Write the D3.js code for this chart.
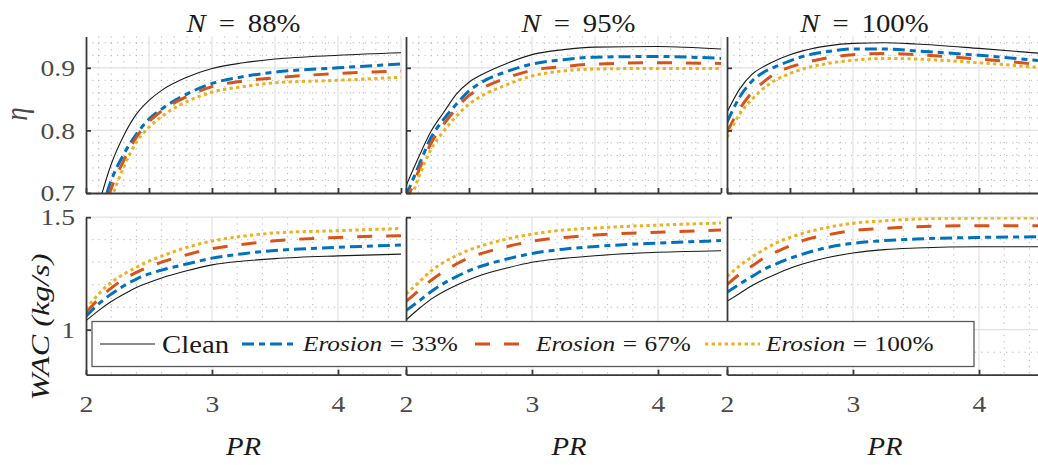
<!DOCTYPE html>
<html><head><meta charset="utf-8">
<script src="https://cdn.jsdelivr.net/npm/d3@7/dist/d3.min.js"></script>
<style>
html,body{margin:0;padding:0;background:#fff;overflow:hidden}
</style>
</head><body>
<svg id="chart" width="1038" height="465"></svg>
<script>
// ---------------- DATA ----------------
const PR = [2.0, 2.1, 2.2, 2.3, 2.4, 2.5, 2.6, 2.8, 3.0, 3.25, 3.5, 4.0, 4.5];

const panelTitles = ["88%", "95%", "100%"];
const seriesNames = ["Clean", "33%", "67%", "100%"];

// efficiency eta
const eta88Clean = [0.600, 0.680, 0.746, 0.792, 0.826, 0.848, 0.864, 0.885, 0.899, 0.908, 0.914, 0.920, 0.924];
const eta88E33   = [0.570, 0.653, 0.720, 0.762, 0.794, 0.818, 0.834, 0.858, 0.875, 0.886, 0.893, 0.900, 0.906];
const eta88E67   = [0.560, 0.645, 0.707, 0.752, 0.789, 0.814, 0.831, 0.854, 0.870, 0.879, 0.884, 0.891, 0.895];
const eta88E100  = [0.550, 0.630, 0.690, 0.742, 0.781, 0.805, 0.822, 0.846, 0.861, 0.870, 0.876, 0.880, 0.885];

const eta95Clean = [0.711, 0.757, 0.799, 0.829, 0.858, 0.877, 0.889, 0.907, 0.921, 0.929, 0.933, 0.934, 0.930];
const eta95E33   = [0.695, 0.743, 0.789, 0.818, 0.842, 0.863, 0.877, 0.894, 0.906, 0.913, 0.917, 0.918, 0.915];
const eta95E67   = [0.685, 0.735, 0.780, 0.810, 0.835, 0.856, 0.867, 0.884, 0.896, 0.902, 0.906, 0.908, 0.907];
const eta95E100  = [0.665, 0.725, 0.770, 0.799, 0.823, 0.842, 0.855, 0.873, 0.887, 0.895, 0.898, 0.899, 0.899];

const eta100Clean = [0.829, 0.866, 0.890, 0.903, 0.913, 0.921, 0.927, 0.935, 0.939, 0.940, 0.938, 0.931, 0.923];
const eta100E33   = [0.813, 0.853, 0.879, 0.894, 0.903, 0.911, 0.918, 0.926, 0.930, 0.930, 0.927, 0.920, 0.911];
const eta100E67   = [0.797, 0.834, 0.861, 0.879, 0.893, 0.901, 0.907, 0.916, 0.921, 0.923, 0.921, 0.914, 0.905];
const eta100E100  = [0.789, 0.826, 0.850, 0.869, 0.882, 0.891, 0.898, 0.907, 0.912, 0.915, 0.914, 0.908, 0.900];

// air mass flow WAC (kg/s)
const wac88Clean = [1.040, 1.085, 1.125, 1.158, 1.188, 1.210, 1.230, 1.262, 1.288, 1.305, 1.316, 1.328, 1.336];
const wac88E33   = [1.060, 1.115, 1.158, 1.195, 1.225, 1.248, 1.265, 1.292, 1.318, 1.338, 1.352, 1.366, 1.376];
const wac88E67   = [1.077, 1.136, 1.185, 1.225, 1.255, 1.280, 1.300, 1.333, 1.360, 1.380, 1.395, 1.410, 1.418];
const wac88E100  = [1.092, 1.158, 1.210, 1.247, 1.277, 1.305, 1.327, 1.366, 1.394, 1.416, 1.430, 1.440, 1.450];

const wac95Clean = [1.043, 1.092, 1.136, 1.170, 1.198, 1.222, 1.243, 1.274, 1.300, 1.317, 1.329, 1.344, 1.351];
const wac95E33   = [1.085, 1.126, 1.170, 1.206, 1.236, 1.262, 1.283, 1.314, 1.339, 1.358, 1.370, 1.385, 1.396];
const wac95E67   = [1.126, 1.173, 1.220, 1.259, 1.292, 1.319, 1.339, 1.369, 1.393, 1.410, 1.421, 1.433, 1.443];
const wac95E100  = [1.159, 1.210, 1.262, 1.300, 1.329, 1.354, 1.373, 1.403, 1.425, 1.443, 1.452, 1.465, 1.474];

const wac100Clean = [1.126, 1.161, 1.196, 1.225, 1.250, 1.273, 1.292, 1.321, 1.341, 1.356, 1.363, 1.369, 1.369];
const wac100E33   = [1.166, 1.203, 1.237, 1.270, 1.295, 1.317, 1.336, 1.366, 1.384, 1.396, 1.403, 1.410, 1.413];
const wac100E67   = [1.200, 1.247, 1.284, 1.321, 1.348, 1.373, 1.396, 1.422, 1.440, 1.450, 1.458, 1.462, 1.462];
const wac100E100  = [1.236, 1.284, 1.324, 1.358, 1.388, 1.410, 1.428, 1.455, 1.473, 1.484, 1.492, 1.496, 1.496];

const etaTicks = [0.7, 0.8, 0.9];
const wacTicks = [1, 1.5];
const prTicks = [2, 3, 4];

// ---------------- FONT PICK ----------------
function pickSerif() {
  const cands = ["Liberation Serif", "Times New Roman", "Tinos", "DejaVu Serif", "Noto Serif", "FreeSerif", "Nimbus Roman", "Times"];
  const ctx = document.createElement("canvas").getContext("2d");
  const probe = "Clean 0.9 Erosion WAC";
  const w = f => { ctx.font = "40px " + f; return ctx.measureText(probe).width; };
  const base1 = w("monospace"), base2 = w("sans-serif");
  for (const c of cands) {
    const f = `"${c}"`;
    if (w(f + ",monospace") !== base1 || w(f + ",sans-serif") !== base2) return f + ",serif";
  }
  return "serif";
}
const FONT = pickSerif();

// ---------------- STYLE / LAYOUT ----------------
const etaSets = [[eta88Clean, eta88E33, eta88E67, eta88E100],
                 [eta95Clean, eta95E33, eta95E67, eta95E100],
                 [eta100Clean, eta100E33, eta100E67, eta100E100]];
const wacSets = [[wac88Clean, wac88E33, wac88E67, wac88E100],
                 [wac95Clean, wac95E33, wac95E67, wac95E100],
                 [wac100Clean, wac100E33, wac100E67, wac100E100]];

const styles = [
  {color: "#1a1a1a", width: 1.1, dash: null},
  {color: "#0072BD", width: 3, dash: "12,5,6,5"},
  {color: "#D95319", width: 3, dash: "15,14"},
  {color: "#EDB120", width: 3, dash: "3.3,3.3"}
];

const SX = 1.15;              // horizontal stretch of the text
const panelLeft = [86, 406, 727];
const panelW = 315;
const titleX = [243.5, 578.5, 864.5];
const xLabelX = [243.5, 569, 885];
const rows = [
  {top: 36.5, bottom: 193, domain: [0.7, 0.95], sets: etaSets, yTicks: etaTicks,
   xMajor: [2, 2.5, 3, 3.5, 4, 4.5], xMinorStep: 0.1, yMinorStep: 0.02, xLabels: false},
  {top: 217.2, bottom: 374.7, domain: [0.8, 1.5], sets: wacSets, yTicks: wacTicks,
   xMajor: prTicks, xMinorStep: 0.2, yMinorStep: 0.1, xLabels: true}
];

const svg = d3.select("#chart");
const defs = svg.append("defs");

function stretchText(sel) {
  sel.attr("transform", `scale(${SX},1)`);
}
function txt(parent) {
  return parent.append("text").style("font-family", FONT);
}

rows.forEach((row, ri) => {
  panelLeft.forEach((left, pi) => {
    const x = d3.scaleLinear().domain([2, 4.5]).range([left, left + panelW]);
    const y = d3.scaleLinear().domain(row.domain).range([row.bottom, row.top]);
    const g = svg.append("g");

    // minor grid
    const eps = 1e-9;
    const xMinor = d3.range(2, 4.5 + eps, row.xMinorStep).filter(v => !row.xMajor.some(m => Math.abs(m - v) < 1e-6));
    const yMinor = d3.range(row.domain[0], row.domain[1] + eps, row.yMinorStep).filter(v => !row.yTicks.some(m => Math.abs(m - v) < 1e-6));
    g.selectAll(".mx").data(xMinor).join("line")
      .attr("x1", d => x(d)).attr("x2", d => x(d)).attr("y1", row.top).attr("y2", row.bottom)
      .attr("stroke", "#b5b5b5").attr("stroke-width", 1).attr("stroke-dasharray", "1.2,5");
    g.selectAll(".my").data(yMinor).join("line")
      .attr("y1", d => y(d)).attr("y2", d => y(d)).attr("x1", left).attr("x2", left + panelW)
      .attr("stroke", "#b5b5b5").attr("stroke-width", 1).attr("stroke-dasharray", "1.2,5");
    // major grid
    g.selectAll(".gx").data(row.xMajor.filter(v => v > 2)).join("line")
      .attr("x1", d => x(d)).attr("x2", d => x(d)).attr("y1", row.top).attr("y2", row.bottom)
      .attr("stroke", "#e2e2e2").attr("stroke-width", 1.2);
    g.selectAll(".gy").data(row.yTicks.filter(v => v > row.domain[0])).join("line")
      .attr("y1", d => y(d)).attr("y2", d => y(d)).attr("x1", left).attr("x2", left + panelW)
      .attr("stroke", "#e2e2e2").attr("stroke-width", 1.2);

    // clip
    const cid = `clip-${ri}-${pi}`;
    defs.append("clipPath").attr("id", cid).append("rect")
      .attr("x", left).attr("y", row.top).attr("width", panelW).attr("height", row.bottom - row.top);

    const line = d3.line().x((d, i) => x(PR[i])).y(d => y(d)).curve(d3.curveMonotoneX);
    const lg = g.append("g").attr("clip-path", `url(#${cid})`);
    row.sets[pi].forEach((vals, si) => {
      const s = styles[si];
      lg.append("path").attr("d", line(vals)).attr("fill", "none")
        .attr("stroke", s.color).attr("stroke-width", s.width)
        .attr("stroke-dasharray", s.dash).attr("stroke-linejoin", "round");
    });

    // axes
    const xAxis = d3.axisBottom(x).tickValues(row.xMajor).tickSizeInner(-5).tickSizeOuter(0)
      .tickPadding(20.5).tickFormat(row.xLabels ? d3.format("d") : "");
    const ax = g.append("g").attr("transform", `translate(0,${row.bottom})`).call(xAxis);
    const yAxis = d3.axisLeft(y).tickValues(row.yTicks).tickSizeInner(-5).tickSizeOuter(0)
      .tickPadding(9.6).tickFormat(pi === 0 ? d3.format("~g") : "");
    const ay = g.append("g").attr("transform", `translate(${left},0)`).call(yAxis);
    [ax, ay].forEach(a => {
      a.attr("font-family", FONT).attr("font-size", 24);
      a.select(".domain").attr("stroke", "#3a3a3a").attr("stroke-width", 1.8);
      a.selectAll(".tick line").attr("stroke", "#3a3a3a").attr("stroke-width", 1.8);
      a.selectAll("text").style("font-family", FONT).style("font-size", "24px")
        .attr("fill", "#4a4a4a").call(stretchText);
    });

    // titles
    if (ri === 0) {
      const t = txt(svg).attr("transform", `translate(${titleX[pi]},32) scale(${SX},1)`)
        .attr("text-anchor", "middle").style("font-size", "25px").attr("fill", "#1a1a1a");
      t.append("tspan").style("font-style", "italic").text("N");
      t.append("tspan").attr("dx", "0.45em").text("=");
      t.append("tspan").attr("dx", "0.45em").text(panelTitles[pi]);
    } else {
      txt(svg).attr("transform", `translate(${xLabelX[pi]},455) scale(${SX},1)`)
        .attr("text-anchor", "middle").style("font-size", "25px")
        .style("font-style", "italic").attr("fill", "#1a1a1a").text("PR");
    }
  });
});

// y labels
txt(svg).attr("transform", `translate(27,114) scale(${SX},1) rotate(-90)`)
  .attr("text-anchor", "middle").style("font-size", "27px")
  .style("font-style", "italic").attr("fill", "#4a4a4a").text("η");
txt(svg).attr("transform", `translate(49,327) rotate(-90)`)
  .attr("text-anchor", "middle").style("font-size", "26px")
  .attr("textLength", 147).attr("lengthAdjust", "spacingAndGlyphs")
  .style("font-style", "italic").attr("fill", "#1a1a1a").text("WAC (kg/s)");

// legend
const lgd = svg.append("g");
lgd.append("rect").attr("x", 92).attr("y", 321.5).attr("width", 882).attr("height", 45)
  .attr("fill", "#fff").attr("stroke", "#5a5a5a").attr("stroke-width", 1.3);
const legendX = [100, 242, 475, 705];
styles.forEach((s, i) => {
  const x0 = legendX[i];
  lgd.append("line").attr("x1", x0).attr("x2", x0 + 55).attr("y1", 344).attr("y2", 344)
    .attr("stroke", s.color).attr("stroke-width", s.width).attr("stroke-dasharray", s.dash);
  if (i === 0) {
    txt(lgd).attr("transform", `translate(${x0 + 62},353) scale(${SX},1)`)
      .style("font-size", "25px").attr("fill", "#1a1a1a").text(seriesNames[i]);
  } else {
    const t = txt(lgd).attr("transform", `translate(${x0 + 61},351) scale(${SX},1)`)
      .style("font-size", "22px").attr("fill", "#1a1a1a");
    t.append("tspan").style("font-style", "italic").text("Erosion");
    t.append("tspan").attr("dx", "0.3em").text("=");
    t.append("tspan").attr("dx", "0.3em").text(seriesNames[i]);
  }
});
</script>
</body></html>
